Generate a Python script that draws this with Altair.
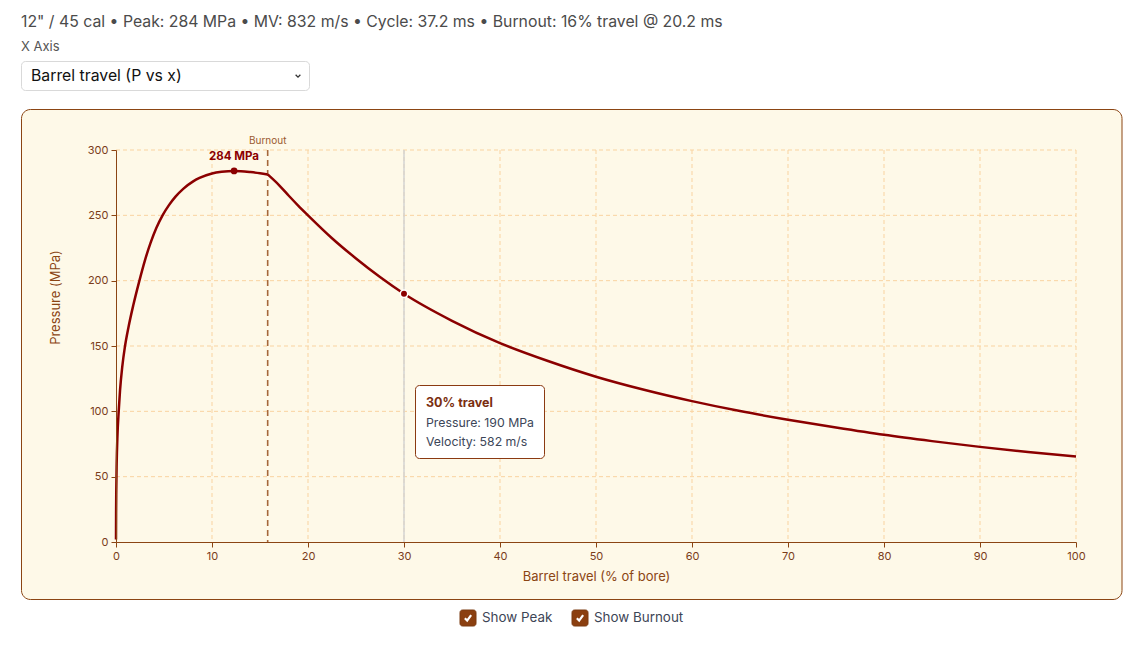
import altair as alt
import pandas as pd

# ---------------- data ----------------
travel_rise = [0, 0.01, 0.03, 0.07, 0.15, 0.28, 0.42, 0.65, 0.93, 1.3, 1.8, 2.42, 3.0, 3.6,
               4.2, 4.85, 5.5, 6.2, 7.0, 8.0, 8.7, 10.0, 11.0, 12.3, 13.0, 14.0, 15.0, 15.8]
pressure_rise = [2, 22, 40, 60, 81, 100, 116, 134, 149.5, 164.4, 181.2, 199.5, 215.2, 228.9,
                 240.3, 250, 257.6, 264.3, 270.3, 275.8, 278.6, 282, 283.3, 284, 283.8, 283.1, 282.2, 281.3]

travel_expand = [15.8, 17, 18, 19, 20, 22.5, 25, 27.5, 30, 35, 40, 45, 50, 55, 60,
                 65, 70, 75, 80, 85, 90, 95, 100]
pressure_expand = [281.3, 273, 265, 257.3, 250, 232.5, 217, 202.8, 190, 169.3, 152.2, 138.5,
                   126.5, 116.5, 107.8, 100.2, 93.6, 87.6, 82, 77.2, 72.8, 68.9, 65.5]

peak_travel = [12.3]
peak_pressure = [284]
peak_label = ["284 MPa"]

burnout_travel = [15.8]
hover_travel = [30]
hover_pressure = [190]

x_ticks = [0, 10, 20, 30, 40, 50, 60, 70, 80, 90, 100]
y_ticks = [0, 50, 100, 150, 200, 250, 300]
x_grid = [10, 20, 30, 40, 50, 60, 70, 80, 90, 100]
y_grid = [50, 100, 150, 200, 250, 300]

header_text = "12\" / 45 cal \u2022 Peak: 284 MPa \u2022 MV: 832 m/s \u2022 Cycle: 37.2 ms \u2022 Burnout: 16% travel @ 20.2 ms"
select_label = "X Axis"
select_value = "Barrel travel (P vs x)"
tooltip_title = "30% travel"
tooltip_lines = ["Pressure: 190 MPa", "Velocity: 582 m/s"]
checkbox_labels = ["Show Peak", "Show Burnout"]

# ---------------- styles ----------------
FONT = "Inter"
BROWN = "#8b4513"
AXIS_TXT = "#7a3d1a"
LINE = "#8b0000"
GRID = "#f9d3a0"
PANEL = "#fef9e8"

W, H = 960, 392
OX, OY = 116, 150  # plot origin on the page

curve = pd.DataFrame({
    "travel": travel_rise + travel_expand,
    "pressure": pressure_rise + pressure_expand,
    "phase": ["burn"] * len(travel_rise) + ["expand"] * len(travel_expand),
})

one = pd.DataFrame({"k": [0]})

xs = alt.Scale(domain=[0, 100], nice=False, zero=False)
ys = alt.Scale(domain=[0, 300], nice=False)

x_axis = alt.Axis(values=x_ticks, grid=False, zindex=1, labelFlush=False,
                  domainColor=BROWN, tickColor=BROWN, tickSize=5, labelColor=AXIS_TXT,
                  titleColor=BROWN, labelFont=FONT, titleFont=FONT, labelFontSize=11,
                  titleFontSize=13, titleFontWeight="normal", labelPadding=3, titlePadding=9)
y_axis = alt.Axis(values=y_ticks, grid=False, zindex=1, labelFlush=False,
                  domainColor=BROWN, tickColor=BROWN, tickSize=5, labelColor=AXIS_TXT,
                  titleColor=BROWN, labelFont=FONT, titleFont=FONT, labelFontSize=11,
                  titleFontSize=13, titleFontWeight="normal", labelPadding=3,
                  titleX=55 - OX, titleY=297 - OY, titleBaseline="middle", titleAlign="center",
                  titleAngle=270)


def X():
    return alt.X("travel:Q", scale=xs, axis=x_axis, title="Barrel travel (% of bore)")


def Y():
    return alt.Y("pressure:Q", scale=ys, axis=y_axis, title="Pressure (MPa)")


def px(x):
    return alt.value(x - OX)


def py(y):
    return alt.value(y - OY)


# panel
panel = alt.Chart(one).mark_rect(fill=PANEL, stroke=BROWN, strokeWidth=1, cornerRadius=9).encode(
    x=px(21.5), x2=px(1122), y=py(109.5), y2=py(599.5))

# header / controls
header = alt.Chart(one).mark_text(align="left", baseline="middle", font=FONT, fontSize=15.8,
                                  color="#4b4b4b").encode(x=px(21), y=py(22), text=alt.value(header_text))
xlab = alt.Chart(one).mark_text(align="left", baseline="middle", font=FONT, fontSize=13,
                                color="#555555").encode(x=px(21), y=py(47), text=alt.value(select_label))
select_box = alt.Chart(one).mark_rect(fill="white", stroke="#d9d9d9", strokeWidth=1, cornerRadius=4).encode(
    x=px(21.5), x2=px(309.5), y=py(61.5), y2=py(90.5))
select_txt = alt.Chart(one).mark_text(align="left", baseline="middle", font=FONT, fontSize=15.8,
                                      color="#111111").encode(x=px(31), y=py(76), text=alt.value(select_value))
chevron = alt.Chart(one).mark_point(shape="M-0.5,-0.25L0,0.25L0.5,-0.25", filled=False, size=90,
                                    color="#333333", strokeWidth=1.3, opacity=1).encode(x=px(298), y=py(76))

# grid lines
xgrid = alt.Chart(pd.DataFrame({"travel": x_grid})).mark_rule(
    color=GRID, strokeWidth=1, strokeDash=[4, 3]).encode(x=X(), y=alt.value(0), y2=alt.value(H))
ygrid = alt.Chart(pd.DataFrame({"pressure": y_grid})).mark_rule(
    color=GRID, strokeWidth=1, strokeDash=[4, 3]).encode(y=Y(), x=alt.value(0), x2=alt.value(W))

# hover rule + burnout rule
hover_rule = alt.Chart(pd.DataFrame({"travel": hover_travel})).mark_rule(
    color="#d3d3d3", strokeWidth=1.5).encode(x=X(), y=alt.value(0), y2=alt.value(H))
burn_rule = alt.Chart(pd.DataFrame({"travel": burnout_travel})).mark_rule(
    color="#a5673a", strokeWidth=1.6, strokeDash=[6, 4]).encode(x=X(), y=alt.value(0), y2=alt.value(H))
burn_label = alt.Chart(pd.DataFrame({"travel": burnout_travel, "t": ["Burnout"]})).mark_text(
    font=FONT, fontSize=10, color="#9a5a30", baseline="middle", align="center").encode(
    x=X(), y=alt.value(-9), text="t:N")

# main line
line = alt.Chart(curve).mark_line(color=LINE, strokeWidth=2.5, interpolate="monotone").encode(
    x=X(), y=Y(), detail="phase:N")

# peak
peak_df = pd.DataFrame({"travel": peak_travel, "pressure": peak_pressure, "t": peak_label})
peak_pt = alt.Chart(peak_df).mark_circle(color=LINE, size=45, opacity=1).encode(x=X(), y=Y())
peak_txt = alt.Chart(peak_df).mark_text(font=FONT, fontSize=11.5, fontWeight="bold", color=LINE,
                                        dy=-14, baseline="middle").encode(x=X(), y=Y(), text="t:N")

# hover point
hover_pt = alt.Chart(pd.DataFrame({"travel": hover_travel, "pressure": hover_pressure})).mark_circle(
    color=LINE, size=55, opacity=1, stroke="white", strokeWidth=1.5).encode(x=X(), y=Y())

# tooltip box
tip_box = alt.Chart(one).mark_rect(fill="white", stroke="#8b3a12", strokeWidth=1, cornerRadius=4).encode(
    x=px(415.5), x2=px(544.5), y=py(385.5), y2=py(458.5))
tip_title = alt.Chart(one).mark_text(align="left", baseline="middle", font=FONT, fontSize=12.5,
                                     fontWeight="bold", color="#7a2e10").encode(
    x=px(426), y=py(403), text=alt.value(tooltip_title))
tip_l1 = alt.Chart(one).mark_text(align="left", baseline="middle", font=FONT, fontSize=12.3,
                                  color="#3c4658").encode(x=px(426), y=py(423), text=alt.value(tooltip_lines[0]))
tip_l2 = alt.Chart(one).mark_text(align="left", baseline="middle", font=FONT, fontSize=12.3,
                                  color="#3c4658").encode(x=px(426), y=py(441.5), text=alt.value(tooltip_lines[1]))

# checkboxes
cb_layers = []
for bx, lx, lab in [(460, 482, checkbox_labels[0]), (572, 594, checkbox_labels[1])]:
    cb_layers.append(alt.Chart(one).mark_rect(fill="#8b3f10", stroke="#7a3a10", cornerRadius=2.5).encode(
        x=px(bx), x2=px(bx + 16), y=py(610), y2=py(626)))
    cb_layers.append(alt.Chart(one).mark_point(shape="M-0.55,0.05L-0.15,0.45L0.55,-0.5", filled=False,
                                               size=130, color="white", strokeWidth=2.2, opacity=1).encode(
        x=px(bx + 8), y=py(618)))
    cb_layers.append(alt.Chart(one).mark_text(align="left", baseline="middle", font=FONT, fontSize=13.4,
                                              color="#3d4556").encode(x=px(lx), y=py(618), text=alt.value(lab)))

chart = alt.layer(
    panel, header, xlab, select_box, select_txt, chevron,
    xgrid, ygrid, hover_rule, burn_rule, burn_label,
    line, peak_pt, peak_txt, hover_pt,
    tip_box, tip_title, tip_l1, tip_l2,
    *cb_layers,
).properties(
    width=W, height=H,
    autosize=alt.AutoSizeParams(type="none"),
    padding={"left": OX, "top": OY, "right": 1143 - OX - W, "bottom": 649 - OY - H},
    background="white",
).configure_view(strokeWidth=0)

chart.save("out.html", embed_options={"renderer": "svg", "actions": False})
